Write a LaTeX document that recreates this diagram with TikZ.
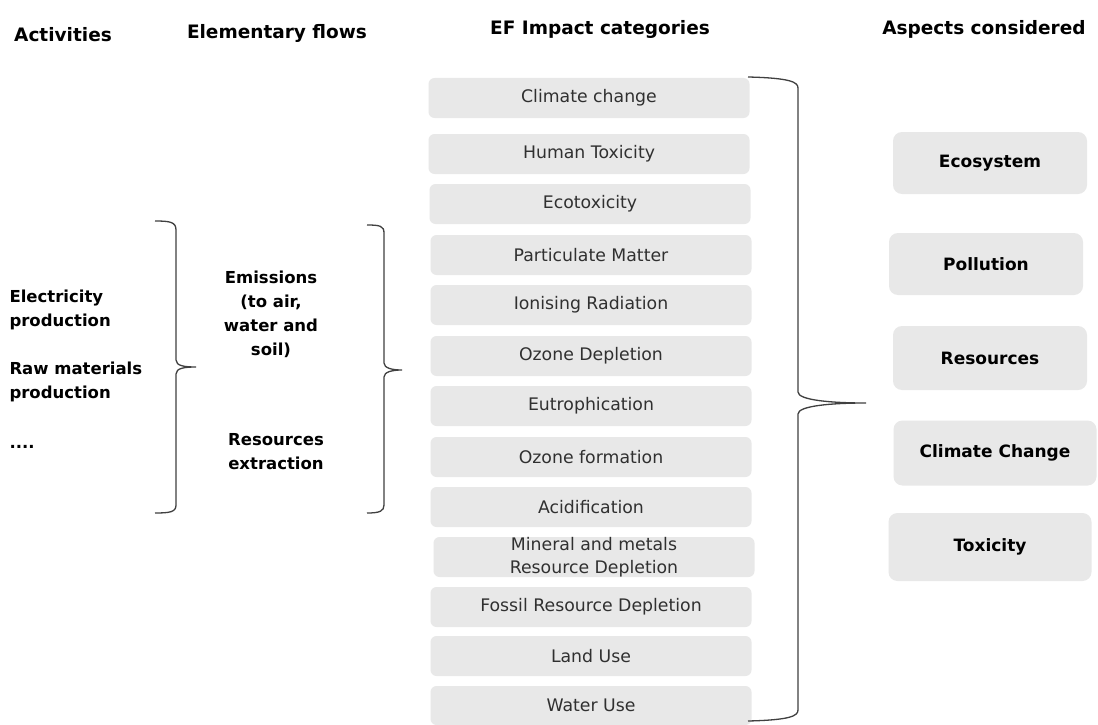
\documentclass[tikz,border=0pt]{standalone}
\usepackage{fontspec}
\setmainfont{DejaVu Sans}
\begin{document}
\begin{tikzpicture}[x=1pt,y=-1pt,
  hdr/.style={font=\fontsize{18.5}{22}\selectfont\bfseries, text=black},
  efbox/.style={fill=boxgray, rounded corners=6pt, minimum width=321pt, minimum height=40pt, inner sep=0pt, text=textgray, font=\fontsize{17.3}{20}\selectfont, align=center},
  aspbox/.style={fill=boxgray, rounded corners=9pt, minimum width=194pt, inner sep=0pt, text=black, font=\fontsize{17}{20}\selectfont\bfseries},
  lbl/.style={font=\fontsize{16.5}{24}\selectfont\bfseries, text=black},
  brace/.style={draw=bracegray, line width=1.3pt}]
\definecolor{boxgray}{HTML}{E8E8E8}
\definecolor{textgray}{HTML}{303030}
\definecolor{bracegray}{HTML}{404040}
\useasboundingbox[fill=white] (0,0) rectangle (1098,725);
% headers
\node[hdr] (hA) at (63,35) {Activities};
\node[hdr] (hE) at (277,33) {Elementary flows};
\node[hdr] (hI) at (600,29) {EF Impact categories};
\node[hdr] (hS) at (984,29) {Aspects considered};
% EF boxes
\node[efbox] (c1) at (589,98) {Climate change};
\node[efbox] (c2) at (589,154) {Human Toxicity};
\node[efbox] (c3) at (590,204) {Ecotoxicity};
\node[efbox] (c4) at (591,255) {Particulate Matter};
\node[efbox] (c5) at (591,305) {Ionising Radiation};
\node[efbox] (c6) at (591,356) {Ozone Depletion};
\node[efbox] (c7) at (591,406) {Eutrophication};
\node[efbox] (c8) at (591,457) {Ozone formation};
\node[efbox] (c9) at (591,507) {Acidification};
\node[efbox, font=\fontsize{17.3}{23}\selectfont] (c10) at (594,557) {Mineral and metals\\Resource Depletion};
\node[efbox] (c11) at (591,607) {Fossil Resource Depletion};
\node[efbox] (c12) at (591,656) {Land Use};
\node[efbox, minimum height=39pt] (c13) at (591,705.5) {Water Use};
% aspect boxes
\node[aspbox, minimum height=62pt] (a1) at (990,163) {Ecosystem};
\node[aspbox, minimum height=62pt] (a2) at (986,264) {Pollution};
\node[aspbox, minimum height=64pt] (a3) at (990,358) {Resources};
\node[aspbox, minimum height=65pt, minimum width=203pt] (a4) at (995,453) {Climate Change};
\node[aspbox, minimum height=68pt, minimum width=203pt] (a5) at (990,547) {Toxicity};
% left labels
\node[lbl, align=left, anchor=west] (l1) at (6,310) {Electricity\\production};
\node[lbl, align=left, anchor=west] (l2) at (6,382) {Raw materials\\production};
\node[lbl, anchor=west] (l3) at (6,447) {....};
% middle labels
\node[lbl, align=center] (m1) at (271,314) {Emissions\\(to air,\\water and\\soil)};
\node[lbl, align=center] (m2) at (276,452) {Resources\\extraction};
% braces
\coordinate (b1) at (196,367);
\coordinate (b2) at (402,370);
\coordinate (b3) at (866,403);
\draw[brace] (155,221) .. controls (170,221) and (176,222) .. (176,230) -- (176,360)
  .. controls (176,366) and (185,367) .. (b1)
  .. controls (185,367) and (176,368) .. (176,374) -- (176,505)
  .. controls (176,512) and (170,513) .. (155,513);
\draw[brace] (367,225) .. controls (380,225) and (384,226) .. (384,233) -- (384,363)
  .. controls (384,368) and (392,370) .. (b2)
  .. controls (392,370) and (384,372) .. (384,377) -- (384,505)
  .. controls (384,511) and (380,513) .. (367,513);
\draw[brace] (748,77) .. controls (790,78) and (798,82) .. (798,88) -- (798,392)
  .. controls (798,400) and (830,403) .. (b3)
  .. controls (830,403) and (798,406) .. (798,414) -- (798,710)
  .. controls (798,716) and (790,720) .. (748,721);
\end{tikzpicture}
\end{document}
